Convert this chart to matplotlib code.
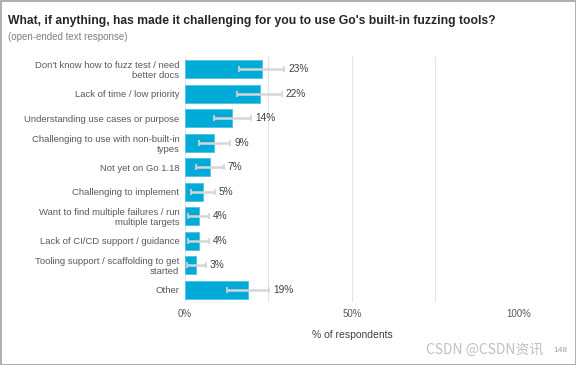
import numpy as np
import matplotlib
matplotlib.use('Agg')
from matplotlib import pyplot as plt

# data
categorias = ["Don't know how to fuzz test / need\nbetter docs",
              "Lack of time / low priority",
              "Understanding use cases or purpose",
              "Challenging to use with non-built-in\ntypes",
              "Not yet on Go 1.18",
              "Challenging to implement",
              "Want to find multiple failures / run\nmultiple targets",
              "Lack of CI/CD support / guidance",
              "Tooling support / scaffolding to get\nstarted",
              "Other"]
valores = [23.2, 22.4, 14.1, 8.8, 7.4, 5.4, 4.3, 4.3, 3.4, 18.8]
ic_baixo = [16.3, 15.7, 8.7, 4.3, 3.3, 1.8, 1.0, 1.0, 0.5, 12.7]
ic_alto = [29.8, 29.0, 19.8, 13.5, 11.7, 9.0, 7.3, 7.3, 6.3, 25.2]
rotulos = ["23%", "22%", "14%", "9%", "7%", "5%", "4%", "4%", "3%", "19%"]
ticks_x = [0, 50, 100]

plt.rcParams['font.family'] = ['Liberation Sans', 'DejaVu Sans']

fig = plt.figure(figsize=(5.76, 3.65), dpi=100)
fig.patch.set_edgecolor('#b0b0b0')
fig.patch.set_linewidth(2)

ax = fig.add_axes([0.321, 0.173, 0.580, 0.671])
y = np.arange(len(categorias))
v = np.array(valores)
erro = [v - np.array(ic_baixo), np.array(ic_alto) - v]

ax.barh(y, v, height=0.74, color='#00abd8', edgecolor='#4cc3e3', linewidth=0.6, zorder=2)
ax.errorbar(v, y, xerr=erro, fmt='none', ecolor='#d6d6d6', elinewidth=1.8,
            capsize=2.5, capthick=1.2, zorder=3)
for i in range(len(categorias)):
    ax.text(ic_alto[i] + 1.2, y[i], rotulos[i], va='center', ha='left',
            fontsize=7.3, color='#404040')

ax.set_xlim(0, 100)
ax.set_ylim(len(categorias) - 0.5, -0.5)
ax.set_yticks(y)
ax.set_yticklabels(categorias, fontsize=6.8, color='#595959', linespacing=1.15)
ax.set_xticks(ticks_x)
ax.set_xticklabels([str(t) + '%' for t in ticks_x], fontsize=7, color='#595959')
ax.set_xticks([25, 75], minor=True)
ax.tick_params(which='both', length=0, pad=5)
ax.tick_params(axis='y', pad=4)
ax.grid(axis='x', which='both', color='#e3e3e3', linewidth=0.8, zorder=0)
for s in ax.spines.values():
    s.set_visible(False)
ax.set_xlabel('% of respondents', fontsize=7.5, color='#404040', labelpad=8)

fig.text(0.014, 0.935, "What, if anything, has made it challenging for you to use Go's built-in fuzzing tools?",
         fontsize=8.7, fontweight='bold', color='#262626')
fig.text(0.014, 0.89, "(open-ended text response)", fontsize=7, color='#7f7f7f')

fig.text(0.985, 0.035, '148', fontsize=6, color='#a0a0a0', ha='right')
fig.text(0.74, 0.03, 'CSDN @CSDN资讯', fontsize=10, color='#c0c0c0',
         family=['Noto Sans CJK SC', 'DejaVu Sans'])

fig.savefig('out.png', dpi=100)
